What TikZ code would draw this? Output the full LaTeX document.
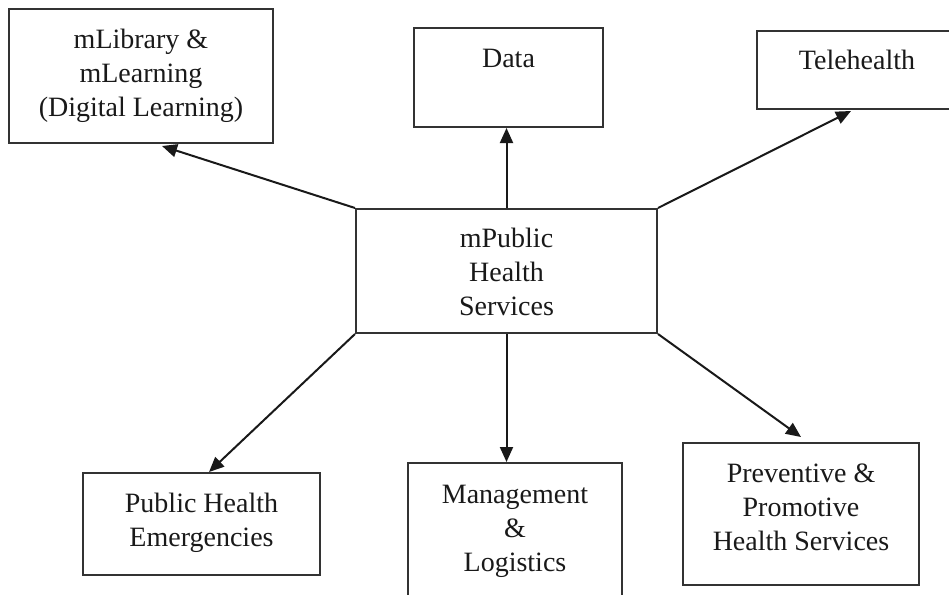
\documentclass[tikz,border=0pt]{standalone}
\usepackage{fontspec}
\setmainfont{Liberation Serif}
\usetikzlibrary{arrows.meta}
\begin{document}
\begin{tikzpicture}[x=1pt,y=-1pt,
  box/.style={draw=black!80, line width=2pt, rectangle, inner sep=0pt},
  lbl/.style={font=\fontsize{28}{34}\selectfont, align=center, inner sep=0pt, text=black!90},
  link/.style={draw=black!90, line width=2pt, -{Triangle[length=15pt,width=13pt]}}]
  \useasboundingbox (0,0) rectangle (949,594);
  \clip (0,0) rectangle (949,594);

  % central hub
  \node[box, minimum width=301pt, minimum height=124pt] (hub) at (506.5,271) {};
  \node[lbl] (hubtxt) at (506.5,272) {mPublic\\Health\\Services};

  % upper row
  \node[box, minimum width=264pt, minimum height=134pt] (lib) at (141,76) {};
  \node[lbl] (libtxt) at (141,76) {mLibrary \&\\mLearning\\(Digital Learning)};

  \node[box, minimum width=189pt, minimum height=99pt] (data) at (508.5,77.5) {};
  \node[lbl] (datatxt) at (508.5,58) {Data};

  \node[box, minimum width=200pt, minimum height=78pt] (tele) at (857,70) {};
  \node[lbl] (teletxt) at (857,60) {Telehealth};

  % lower row
  \node[box, minimum width=237pt, minimum height=102pt] (phe) at (201.5,524) {};
  \node[lbl] (phetxt) at (201.5,523) {Public Health\\Emergencies};

  \node[box, minimum width=214pt, minimum height=150pt] (mgmt) at (515,538) {};
  \node[lbl] (mgmttxt) at (515,531) {Management\\\&\\Logistics};

  \node[box, minimum width=236pt, minimum height=142pt] (prev) at (801,514) {};
  \node[lbl] (prevtxt) at (801,507) {Preventive \&\\Promotive\\Health Services};

  % connectors from the hub
  \draw[link] (hub.north west) -- ([xshift=154pt,yshift=-2pt]lib.south west);
  \draw[link] (hub.north) -- (hub.north |- data.south);
  \draw[link] (hub.north east) -- ([xshift=95pt,yshift=-1pt]tele.south west);
  \draw[link] (hub.south west) -- ([xshift=127pt]phe.north west);
  \draw[link] (hub.south) -- (hub.south |- mgmt.north);
  \draw[link] (hub.south east) -- ([xshift=119pt,yshift=5pt]prev.north west);
\end{tikzpicture}
\end{document}
